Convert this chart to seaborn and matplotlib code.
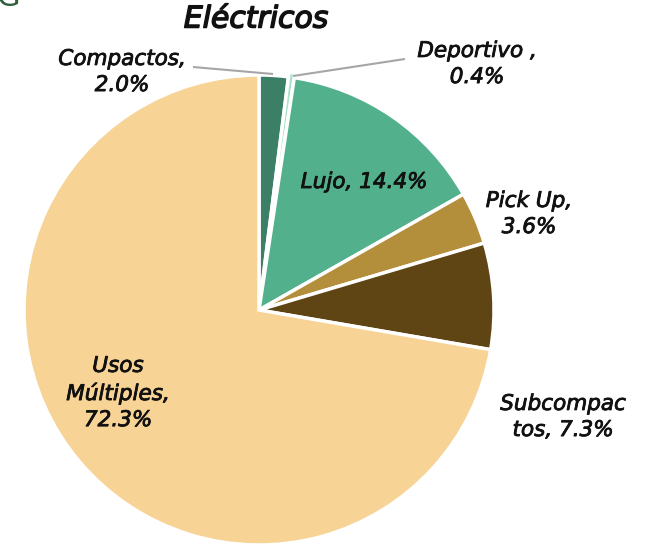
import matplotlib
matplotlib.use("Agg")
import matplotlib.pyplot as plt
import matplotlib.patheffects as pe
import seaborn as sns

sns.set_theme(style="white")
plt.rcParams['font.family'] = ['DejaVu Sans']

categories = ["Compactos", "Deportivo", "Lujo", "Pick Up", "Subcompactos", "Usos Múltiples"]
values = [2.0, 0.4, 14.4, 3.6, 7.3, 72.3]
label_texts = ["Compactos,\n2.0%", "Deportivo ,\n0.4%", "Lujo, 14.4%", "Pick Up,\n3.6%",
               "Subcompac\ntos, 7.3%", "Usos\nMúltiples,\n72.3%"]
colors = ["#3a7f66", "#a6e2c9", "#52b08c", "#b38f3b", "#5e4513", "#f7d396"]
title = "Eléctricos"

W, H = 646, 547
fig = plt.figure(figsize=(W / 100, H / 100), dpi=100)
cx, cy, R = 259, 310, 235
ax = fig.add_axes([(cx - R) / W, (H - cy - R) / H, 2 * R / W, 2 * R / H])

explode = [0, 0.02, 0, 0, 0, 0]
ax.pie(values, colors=colors, startangle=90, counterclock=False, radius=1,
       explode=explode, wedgeprops=dict(edgecolor="white", linewidth=2.5))
ax.set_xlim(-1, 1)
ax.set_ylim(-1, 1)
ax.set_aspect("equal")
ax.axis("off")

def d(px, py):
    return (px - cx) / R, (cy - py) / R

thick = [pe.withStroke(linewidth=0.6, foreground="#111111")]
pos = [(122, 72), (477, 64), (364, 182), (529, 214), (563, 417), (118, 393)]
for t, (px, py) in zip(label_texts, pos):
    x, y = d(px, py)
    ax.text(x, y, t, ha="center", va="center", fontsize=15.5, style="italic",
            fontweight="normal", color="#111111", linespacing=1.38, clip_on=False,
            path_effects=thick)

# leader lines
for (x0, y0), (x1, y1) in [((193, 67), (273, 74)), ((293, 76), (405, 59))]:
    a, b = d(x0, y0)
    c, e = d(x1, y1)
    ax.plot([a, c], [b, e], color="#a6a6a6", lw=1.5, solid_capstyle="butt", clip_on=False)

fig.text(256 / W, 1 - 19 / H, title, ha="center", va="center", fontsize=21.5,
         style="italic", fontweight="normal", color="#111111",
         path_effects=[pe.withStroke(linewidth=1.1, foreground="#111111")])
fig.text(-4 / W, 1 + 2 / H, "G", ha="left", va="center", fontsize=22,
         color="#2e5e3a")

fig.savefig("out.png", dpi=100)
